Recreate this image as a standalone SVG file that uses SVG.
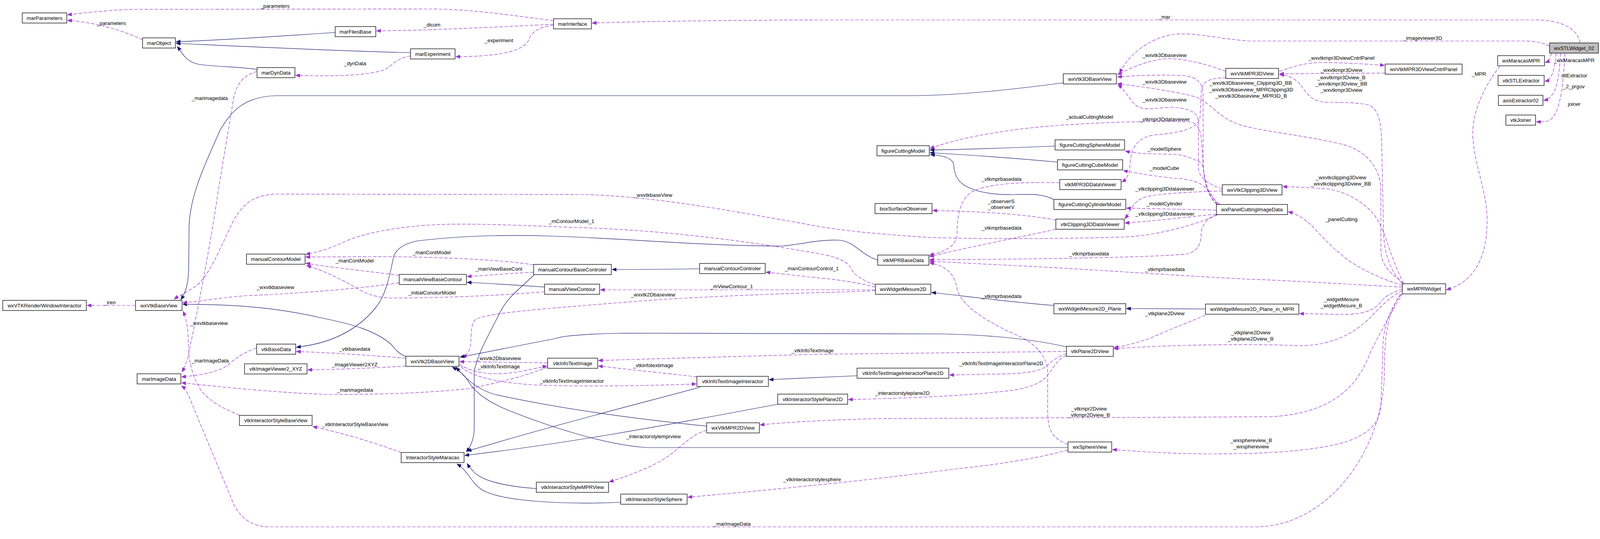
<svg xmlns="http://www.w3.org/2000/svg" width="4244" height="1380" viewBox="0 0 4244 1380">
<defs>
<marker id="ap" markerUnits="userSpaceOnUse" markerWidth="12" markerHeight="9" viewBox="0 0 12 9" refX="11" refY="4.5" orient="auto"><path d="M0,0 L11,4.5 L0,9 z" fill="#9a32cd" stroke="#9a32cd" stroke-width="1"/></marker>
<marker id="an" markerUnits="userSpaceOnUse" markerWidth="12" markerHeight="9" viewBox="0 0 12 9" refX="11" refY="4.5" orient="auto"><path d="M0,0 L11,4.5 L0,9 z" fill="#191970" stroke="#191970" stroke-width="1"/></marker>
</defs>
<style>
text{font-family:"Liberation Sans",Arial,Helvetica,sans-serif;font-size:13.3px;fill:#000;text-anchor:middle}
.n rect{fill:#fff;stroke:#000;stroke-width:1.3}
.n.root rect{fill:#bfbfbf}
.u{fill:none;stroke:#9a32cd;stroke-width:1.2;stroke-dasharray:9,4;marker-end:url(#ap)}
.i{fill:none;stroke:#191970;stroke-width:1.2;marker-end:url(#an)}
</style>
<rect x="0" y="0" width="4244" height="1380" fill="#fff"/>
<g id="edges">
<path class="i" d="M858,83 C760,90 560,103 451,107"/>
<path class="i" d="M1051,135 C900,131 600,118 451,111"/>
<path class="i" d="M658,178 C610,170 560,172 510,165 C475,158 468,138 454,119"/>
<path class="u" d="M365,102 C320,80 250,58 173,52"/>
<path class="u" d="M1417,53 C1300,38 1200,23 1100,23 L340,24 C280,26 220,32 173,38"/>
<path class="u" d="M1417,62 C1300,68 1100,78 964,79"/>
<path class="u" d="M1417,64 C1365,72 1358,90 1352,105 C1335,135 1260,145 1167,145"/>
<path class="u" d="M1051,143 C1010,150 1003,172 980,180 C930,196 820,195 757,193"/>
<path class="u" d="M658,183 C612,195 600,230 595,270 L560,480 C540,620 505,800 483,905 C478,928 472,942 466,952"/>
<path class="u" d="M4045,110 C4040,75 4000,51 3930,51 L2100,51 C1800,52 1600,56 1516,59"/>
<path class="u" d="M3967,118 C3945,108 3930,105 3900,105 L3200,105 C3120,100 3060,82 3005,88 C2940,98 2890,140 2866,187"/>
<path class="i" d="M2722,212 C2550,235 2420,245 2330,245 L705,245 C620,248 590,290 565,330 C525,420 486,500 484,580 L483,690 C482,725 476,748 463,767"/>
<path class="u" d="M3138,183 C3080,160 3010,145 2970,152 C2920,160 2885,180 2861,191"/>
<path class="u" d="M3116,524 C3088,500 3080,460 3080,400 L3080,240 C3078,208 3060,194 3020,193 C2950,191 2900,194 2861,197"/>
<path class="u" d="M3129,484 C3090,470 3070,455 3068,430 L3068,310 C3066,290 3050,278 3005,275 C2970,273 2940,285 2914,274 C2895,262 2885,235 2862,217"/>
<path class="u" d="M3594,726 C3560,700 3535,680 3535,640 L3535,480 C3530,420 3490,380 3425,367 C3330,345 3220,335 3170,318 C3120,300 3100,265 3061,248 C3000,232 2920,222 2861,214"/>
<path class="u" d="M3275,183 C3310,170 3340,161 3380,160 C3440,160 3490,164 3544,167"/>
<path class="u" d="M3546,187 L3276,189"/>
<path class="u" d="M3591,727 C3565,700 3545,660 3542,600 L3537,360 C3535,300 3525,275 3500,268 C3470,262 3430,262 3400,262 C3360,262 3345,240 3335,225 C3320,202 3300,193 3276,191"/>
<path class="u" d="M3972,136 C3969,148 3965,157 3956,160"/>
<path class="u" d="M3984,136 C3980,170 3976,204 3955,208"/>
<path class="u" d="M3995,136 C3991,200 3986,250 3952,257"/>
<path class="u" d="M4006,136 C4002,230 3992,300 3962,310 C3952,312 3942,312 3933,312"/>
<path class="u" d="M3840,169 C3800,220 3772,280 3770,340 C3772,420 3805,480 3807,560 C3808,650 3780,720 3703,742"/>
<path class="u" d="M3140,199 C3100,200 3075,205 3075,240 L3072,300 C3068,330 3020,340 2960,345 C2910,350 2895,380 2893,420 C2892,445 2885,458 2872,466"/>
<path class="u" d="M3122,523 C3095,500 3082,470 3080,420 L3075,350 C3070,322 3060,312 3040,312 C2900,308 2700,318 2591,333 C2500,346 2430,362 2381,380"/>
<path class="i" d="M2701,374 C2600,378 2450,383 2381,384"/>
<path class="i" d="M2707,415 C2600,405 2450,395 2381,391"/>
<path class="i" d="M2698,511 C2670,496 2640,497 2600,498 C2540,500 2500,492 2470,475 C2446,460 2443,440 2441,420 C2438,405 2415,398 2382,396"/>
<path class="u" d="M3116,523 C3092,500 3086,470 3082,440 C3079,420 3075,414 3061,410 C3040,400 3020,395 3005,395 C2960,394 2920,395 2881,387"/>
<path class="u" d="M3118,523 C3100,500 3090,478 3068,468 C3040,458 3020,457 3012,457 C2960,452 2920,445 2876,437"/>
<path class="u" d="M3114,538 C3030,536 2950,534 2884,533"/>
<path class="u" d="M3129,489 C3080,490 2960,495 2930,505 C2900,515 2895,540 2880,560"/>
<path class="u" d="M3114,548 C3020,558 2950,566 2880,571"/>
<path class="u" d="M2703,563 C2600,545 2480,541 2388,539"/>
<path class="u" d="M2713,468 C2620,465 2530,470 2490,490 C2455,510 2450,560 2450,600 C2448,630 2420,645 2380,653"/>
<path class="u" d="M2703,587 C2600,610 2480,632 2380,657"/>
<path class="u" d="M3114,550 C3088,558 3075,580 3075,600 C3075,630 3060,645 3040,650 C2950,660 2600,664 2380,665"/>
<path class="u" d="M3590,735 C3450,728 3300,718 3200,715 C3000,705 2800,690 2600,680 C2500,675 2420,671 2380,669"/>
<path class="u" d="M2734,1138 C2692,1122 2682,1100 2682,1050 L2682,950 C2680,918 2660,880 2591,853 C2520,820 2460,780 2450,740 C2445,700 2420,680 2380,673"/>
<path class="i" d="M2247,666 C2200,650 2190,620 2150,615 C2100,612 2050,626 2003,630 C1800,630 1600,610 1400,604 C1250,600 1150,607 1067,617 C1030,625 1012,640 1007,660 C995,720 985,760 960,790 C910,850 840,880 759,889"/>
<path class="i" d="M1039,913 C1020,905 1012,895 1003,883 C960,845 900,830 828,815 C720,790 620,779 468,779"/>
<path class="u" d="M347,782 L223,782"/>
<path class="u" d="M1022,724 C950,735 800,750 631,757 C560,762 510,772 468,775"/>
<path class="u" d="M613,1063 C570,1045 540,1030 515,1000 C490,960 482,920 482,870 C481,840 478,820 469,797"/>
<path class="u" d="M3117,550 C3050,580 2950,605 2872,607 C2700,612 2500,612 2381,608 C2250,600 2150,590 2087,578 C1900,545 1700,505 1500,498 L705,497 C640,500 620,530 600,560 C570,620 540,700 505,730 C480,748 458,757 446,766"/>
<path class="u" d="M1366,678 C1300,668 1200,660 1000,657 L783,658"/>
<path class="u" d="M1022,705 C950,695 870,688 783,674"/>
<path class="u" d="M1394,747 C1300,755 1150,763 1000,763 C960,762 930,750 900,730 C860,708 820,690 785,680"/>
<path class="u" d="M2241,729 C2200,715 2185,700 2180,690 C2170,670 2150,660 2100,650 C1900,615 1700,590 1491,583 C1350,578 1200,570 1100,576 C1000,583 920,600 880,620 C840,638 815,645 783,651"/>
<path class="u" d="M1366,697 C1300,700 1250,705 1196,708"/>
<path class="i" d="M1394,735 C1320,730 1250,725 1196,723"/>
<path class="i" d="M1791,688 C1700,690 1620,690 1567,690"/>
<path class="u" d="M2241,735 C2200,725 2150,716 2100,712 C2050,707 2000,700 1961,697"/>
<path class="u" d="M2241,742 L1537,742"/>
<path class="u" d="M2241,744 C2200,746 2150,748 2100,749 C1900,755 1700,765 1610,773 C1400,790 1250,800 1217,818 C1205,830 1207,853 1205,880 C1203,900 1195,910 1184,915"/>
<path class="i" d="M1368,703 C1330,740 1300,760 1280,800 C1250,860 1225,900 1214,950 L1214,1100 C1212,1130 1203,1145 1194,1157"/>
<path class="i" d="M2730,888 C2650,870 2550,858 2416,855 L1596,853 C1500,855 1440,860 1421,867 C1300,890 1230,905 1178,914"/>
<path class="u" d="M2730,900 C2500,902 2300,905 2100,907 C1900,912 1700,918 1532,923"/>
<path class="u" d="M1402,929 L1177,926"/>
<path class="u" d="M1176,933 C1195,945 1230,957 1267,957 C1320,957 1360,945 1400,937"/>
<path class="u" d="M1180,938 C1200,960 1260,980 1379,986 C1500,990 1650,988 1782,983"/>
<path class="u" d="M1784,965 C1700,955 1600,945 1532,937"/>
<path class="u" d="M1402,940 C1350,960 1300,975 1200,995 C1100,1005 1000,1010 842,1010 C700,1005 560,990 465,980"/>
<path class="u" d="M1039,937 C950,943 850,946 788,947"/>
<path class="u" d="M1039,917 C950,910 850,903 759,900"/>
<path class="u" d="M657,891 C630,900 605,915 589,930 C570,950 520,960 465,965"/>
<path class="u" d="M3585,753 C3555,800 3544,850 3544,950 C3544,1150 3400,1349 3214,1349 L690,1349 C640,1349 612,1320 598,1290 L491,1033 C484,1012 476,996 465,988"/>
<path class="u" d="M1028,1159 C950,1130 880,1110 801,1092"/>
<path class="i" d="M2194,962 C2100,966 2030,970 1969,972"/>
<path class="i" d="M1793,991 C1650,1030 1450,1080 1196,1155"/>
<path class="i" d="M1991,1035 C1800,1070 1500,1130 1190,1166"/>
<path class="i" d="M1809,1091 C1650,1075 1450,1050 1267,1010 C1230,1000 1195,975 1168,940"/>
<path class="i" d="M2734,1146 L1659,1146 C1550,1140 1400,1090 1300,1050 C1240,1025 1213,1000 1198,975 C1188,958 1170,946 1158,940"/>
<path class="i" d="M1373,1251 C1290,1245 1230,1230 1210,1205 C1203,1197 1199,1192 1196,1187"/>
<path class="i" d="M1589,1286 C1450,1292 1290,1285 1235,1255 C1205,1235 1198,1205 1170,1188"/>
<path class="u" d="M1809,1102 C1770,1110 1740,1150 1700,1175 C1650,1205 1600,1220 1560,1234"/>
<path class="u" d="M2734,1152 C2650,1175 2550,1190 2451,1200 C2300,1220 2100,1243 1761,1273"/>
<path class="u" d="M3592,750 C3560,800 3530,860 3509,900 C3480,980 3420,1060 3249,1067 L2240,1072 C2100,1076 2000,1082 1946,1088"/>
<path class="u" d="M3588,753 C3550,800 3540,850 3540,900 L3535,1040 C3530,1090 3500,1110 3450,1130 C3350,1160 3200,1162 3096,1162 C3000,1162 2900,1155 2848,1151"/>
<path class="u" d="M3593,726 C3580,700 3565,660 3558,640 C3545,600 3530,560 3509,540 C3480,510 3440,490 3400,484 C3350,480 3310,478 3284,478"/>
<path class="u" d="M3590,731 C3540,715 3480,690 3440,657 C3400,625 3380,600 3360,580 C3340,560 3320,548 3298,542"/>
<path class="u" d="M3590,740 C3565,748 3545,760 3537,770 C3520,795 3490,805 3439,805 L3327,803"/>
<path class="u" d="M3590,744 C3560,760 3540,780 3520,800 C3480,845 3420,885 3326,885 C3200,880 3000,882 2852,893"/>
<path class="u" d="M3086,807 C3030,830 2980,850 2942,867 C2900,880 2880,886 2852,890"/>
<path class="i" d="M3086,791 L2884,790"/>
<path class="i" d="M2698,782 C2550,770 2450,755 2385,749"/>
<path class="u" d="M2730,905 C2705,915 2692,925 2682,935 C2662,955 2600,958 2521,958 C2480,959 2450,960 2431,960"/>
<path class="u" d="M2730,910 C2705,920 2692,950 2682,960 C2662,990 2600,1000 2556,1003 C2450,1015 2300,1020 2172,1023"/>
<g id="edge-labels">
<text x="704" y="20">_parameters</text>
<text x="285" y="64">_parameters</text>
<text x="1106" y="68">_dicom</text>
<text x="1277" y="108">_experiment</text>
<text x="909" y="167">_dynData</text>
<text x="537" y="256">_marimagedata</text>
<text x="2981" y="48">_mar</text>
<text x="3642" y="102">_imageviewer3D</text>
<text x="2981" y="146">_wxvtk3Dbaseview</text>
<text x="2981" y="214">_wxvtk3Dbaseview</text>
<text x="2981" y="260">_wxvtk3Dbaseview</text>
<text x="3202" y="217">_wxvtk3Dbaseview_Clipping3D_BB</text>
<text x="3203" y="234">_wxvtk3Dbaseview_MPRClipping3D</text>
<text x="3203" y="250">_wxvtk3Dbaseview_MPR3D_B</text>
<text x="3434" y="153">_wxvtkmpr3DviewCntrlPanel</text>
<text x="3434" y="184">_wxvtkmpr3Dview</text>
<text x="3434" y="203">_wxvtkmpr3Dview_B</text>
<text x="3434" y="219">_wxvtkmpr3Dview_BB</text>
<text x="3434" y="235">_wxvtkmpr3Dview</text>
<text x="3786" y="194">_MPR</text>
<text x="4030" y="159">_wxMaracasMPR</text>
<text x="4030" y="198">stlExtractor</text>
<text x="4029" y="226">_2_prgov</text>
<text x="4030" y="271">joiner</text>
<text x="2789" y="304">_actualCuttingModel</text>
<text x="2982" y="310">_vtkmpr3Ddataviewer</text>
<text x="2981" y="386">_modelSphere</text>
<text x="2981" y="435">_modelCube</text>
<text x="2564" y="463">_vtkmprbasedata</text>
<text x="3433" y="459">_wxvtkclipping3Dview</text>
<text x="3433" y="475">_wxvtkclipping3Dview_BB</text>
<text x="2982" y="488">_vtkclipping3Ddataviewer</text>
<text x="2563" y="520">_observerS</text>
<text x="2563" y="535">_observerV</text>
<text x="2981" y="526">_modelCylinder</text>
<text x="2982" y="552">_vtkclipping3Ddataviewer</text>
<text x="3434" y="566">_panelCutting</text>
<text x="2564" y="588">_vtkmprbasedata</text>
<text x="2788" y="654">_vtkmprbasedata</text>
<text x="2982" y="694">_vtkmprbasedata</text>
<text x="2078" y="692">_manContourControl_1</text>
<text x="2564" y="763">_vtkmprbasedata</text>
<text x="3434" y="771">_widgetMesure</text>
<text x="3434" y="787">_widgetMesure_B</text>
<text x="2982" y="807">_vtkplane2Dview</text>
<text x="3202" y="856">_vtkplane2Dview</text>
<text x="3202" y="872">_vtkplane2Dview_B</text>
<text x="2080" y="902">_vtkInfoTextImage</text>
<text x="1672" y="504">_wxvtkbaseView</text>
<text x="1463" y="571">_mContourModel_1</text>
<text x="1105" y="651">_manContModel</text>
<text x="1277" y="693">_manViewBaseCont</text>
<text x="1873" y="738">_mViewContour_1</text>
<text x="1672" y="759">_wxvtk2Dbaseview</text>
<text x="1106" y="754">_initialConoturModel</text>
<text x="908" y="672">_manContModel</text>
<text x="705" y="740">_wxvtkbaseview</text>
<text x="281" y="779">_iren</text>
<text x="535" y="832">_wxvtkbaseview</text>
<text x="908" y="898">_vtkbasedata</text>
<text x="538" y="928">_marImageData</text>
<text x="908" y="938">_imageViewer2XYZ</text>
<text x="909" y="1003">_marimagedata</text>
<text x="909" y="1091">_vtkInteractorStyleBaseView</text>
<text x="1277" y="922">_wxvtk2Dbaseview</text>
<text x="1277" y="943">_vtkInfoTextImage</text>
<text x="1464" y="980">_vtkInfoTextImageInteractor</text>
<text x="1672" y="940">_vtkinfotextimage</text>
<text x="1673" y="1122">_interactorstylemprview</text>
<text x="2079" y="1232">_vtkinteractorstylesphere</text>
<text x="1874" y="1346">_marImageData</text>
<text x="2563" y="935">_vtkInfoTextImageInteractorPlane2D</text>
<text x="2310" y="1011">_interactorstyleplane2D</text>
<text x="2788" y="1051">_vtkmpr2Dview</text>
<text x="2788" y="1067">_vtkmpr2Dview_B</text>
<text x="3203" y="1132">_wxsphereview_B</text>
<text x="3203" y="1148">_wxsphereview</text>
</g>
</g>
<g id="marParameters" class="n"><rect x="57" y="33" width="114" height="26"/><text x="114" y="50.6">marParameters</text></g>
<g id="marObject" class="n"><rect x="365" y="97" width="84" height="26"/><text x="407" y="114.6">marObject</text></g>
<g id="marFilesBase" class="n"><rect x="858" y="68" width="104" height="26"/><text x="910" y="85.6">marFilesBase</text></g>
<g id="marExperiment" class="n"><rect x="1051" y="125" width="114" height="26"/><text x="1108" y="142.6">marExperiment</text></g>
<g id="marDynData" class="n"><rect x="658" y="173" width="97" height="26"/><text x="706.5" y="190.6">marDynData</text></g>
<g id="marInterface" class="n"><rect x="1417" y="48" width="97" height="26"/><text x="1465.5" y="65.6">marInterface</text></g>
<g id="wxVtk3DBaseView" class="n"><rect x="2722" y="189" width="136" height="26"/><text x="2790" y="206.6">wxVtk3DBaseView</text></g>
<g id="figureCuttingModel" class="n"><rect x="2245" y="373" width="134" height="26"/><text x="2312" y="390.6">figureCuttingModel</text></g>
<g id="figureCuttingSphereModel" class="n"><rect x="2701" y="358" width="178" height="26"/><text x="2790" y="375.6">figureCuttingSphereModel</text></g>
<g id="figureCuttingCubeModel" class="n"><rect x="2707" y="409" width="167" height="26"/><text x="2790.5" y="426.6">figureCuttingCubeModel</text></g>
<g id="wxVtkMPR3DView" class="n"><rect x="3138" y="175" width="135" height="26"/><text x="3205.5" y="192.6">wxVtkMPR3DView</text></g>
<g id="wxVtkMPR3DViewCntrlPanel" class="n"><rect x="3546" y="164" width="197" height="26"/><text x="3644.5" y="181.6">wxVtkMPR3DViewCntrlPanel</text></g>
<g id="wxMaracasMPR" class="n"><rect x="3834" y="142.5" width="120" height="26"/><text x="3894" y="160.1">wxMaracasMPR</text></g>
<g id="vtkSTLExtractor" class="n"><rect x="3835" y="193" width="118" height="26"/><text x="3894" y="210.6">vtkSTLExtractor</text></g>
<g id="axisExtractor02" class="n"><rect x="3836" y="244" width="114" height="26"/><text x="3893" y="261.6">axisExtractor02</text></g>
<g id="vtkJoiner" class="n"><rect x="3855" y="294.5" width="76" height="26"/><text x="3893" y="312.1">vtkJoiner</text></g>
<g id="wxSTLWidget_02" class="n root"><rect x="3967" y="110" width="125" height="26"/><text x="4029.5" y="127.6">wxSTLWidget_02</text></g>
<g id="wxVTKRenderWindowInteractor" class="n"><rect x="7" y="769" width="214" height="26"/><text x="114" y="786.6">wxVTKRenderWindowInteractor</text></g>
<g id="wxVtkBaseView" class="n"><rect x="347" y="769" width="119" height="26"/><text x="406.5" y="786.6">wxVtkBaseView</text></g>
<g id="manualContourModel" class="n"><rect x="631" y="650.5" width="150" height="26"/><text x="706" y="668.1">manualContourModel</text></g>
<g id="vtkBaseData" class="n"><rect x="657" y="881" width="100" height="26"/><text x="707" y="898.6">vtkBaseData</text></g>
<g id="manualViewBaseContour" class="n"><rect x="1022" y="702.5" width="172" height="26"/><text x="1108" y="720.1">manualViewBaseContour</text></g>
<g id="manualContourBaseControler" class="n"><rect x="1366" y="677" width="199" height="26"/><text x="1465.5" y="694.6">manualContourBaseControler</text></g>
<g id="manualViewContour" class="n"><rect x="1394" y="727.5" width="141" height="26"/><text x="1464.5" y="745.1">manualViewContour</text></g>
<g id="manualContourControler" class="n"><rect x="1791" y="674.5" width="168" height="26"/><text x="1875" y="692.1">manualContourControler</text></g>
<g id="wxVtk2DBaseView" class="n"><rect x="1039" y="912" width="136" height="26"/><text x="1107" y="929.6">wxVtk2DBaseView</text></g>
<g id="vtkMPR3DDataViewer" class="n"><rect x="2713" y="459.5" width="157" height="26"/><text x="2791.5" y="477.1">vtkMPR3DDataViewer</text></g>
<g id="figureCuttingCylinderModel" class="n"><rect x="2698" y="510.5" width="184" height="26"/><text x="2790" y="528.1">figureCuttingCylinderModel</text></g>
<g id="boxSurfaceObserver" class="n"><rect x="2240" y="521" width="146" height="26"/><text x="2313" y="538.6">boxSurfaceObserver</text></g>
<g id="vtkClipping3DDataViewer" class="n"><rect x="2703" y="561" width="175" height="26"/><text x="2790.5" y="578.6">vtkClipping3DDataViewer</text></g>
<g id="vtkMPRBaseData" class="n"><rect x="2247" y="653" width="131" height="26"/><text x="2312.5" y="670.6">vtkMPRBaseData</text></g>
<g id="wxWidgetMesure2D" class="n"><rect x="2241" y="727.5" width="142" height="26"/><text x="2312" y="745.1">wxWidgetMesure2D</text></g>
<g id="wxWidgetMesure2D_Plane" class="n"><rect x="2698" y="777.5" width="184" height="26"/><text x="2790" y="795.1">wxWidgetMesure2D_Plane</text></g>
<g id="vtkPlane2DView" class="n"><rect x="2730" y="886.5" width="120" height="26"/><text x="2790" y="904.1">vtkPlane2DView</text></g>
<g id="wxVtkClipping3DView" class="n"><rect x="3129" y="473" width="153" height="26"/><text x="3205.5" y="490.6">wxVtkClipping3DView</text></g>
<g id="wxPanelCuttingImageData" class="n"><rect x="3114" y="523.5" width="182" height="26"/><text x="3205" y="541.1">wxPanelCuttingImageData</text></g>
<g id="wxWidgetMesure2D_Plane_in_MPR" class="n"><rect x="3086" y="778.5" width="239" height="26"/><text x="3205.5" y="796.1">wxWidgetMesure2D_Plane_in_MPR</text></g>
<g id="wxMPRWidget" class="n"><rect x="3590" y="726.5" width="111" height="26"/><text x="3645.5" y="744.1">wxMPRWidget</text></g>
<g id="marImageData" class="n"><rect x="351" y="957" width="112" height="26"/><text x="407" y="974.6">marImageData</text></g>
<g id="vtkImageViewer2_XYZ" class="n"><rect x="626" y="931.5" width="160" height="26"/><text x="706" y="949.1">vtkImageViewer2_XYZ</text></g>
<g id="vtkInteractorStyleBaseView" class="n"><rect x="613" y="1063.5" width="186" height="26"/><text x="706" y="1081.1">vtkInteractorStyleBaseView</text></g>
<g id="InteractorStyleMaracas" class="n"><rect x="1027" y="1158.5" width="161" height="26"/><text x="1107.5" y="1176.1">InteractorStyleMaracas</text></g>
<g id="vtkInfoTextImage" class="n"><rect x="1402" y="917" width="128" height="26"/><text x="1466" y="934.6">vtkInfoTextImage</text></g>
<g id="vtkInfoTextImageInteractor" class="n"><rect x="1784" y="963.5" width="183" height="26"/><text x="1875.5" y="981.1">vtkInfoTextImageInteractor</text></g>
<g id="vtkInteractorStylePlane2D" class="n"><rect x="1991" y="1009" width="179" height="26"/><text x="2080.5" y="1026.6">vtkInteractorStylePlane2D</text></g>
<g id="wxVtkMPR2DView" class="n"><rect x="1809" y="1082.5" width="135" height="26"/><text x="1876.5" y="1100.1">wxVtkMPR2DView</text></g>
<g id="vtkInteractorStyleMPRView" class="n"><rect x="1373" y="1234.5" width="185" height="26"/><text x="1465.5" y="1252.1">vtkInteractorStyleMPRView</text></g>
<g id="vtkInteractorStyleSphere" class="n"><rect x="1589" y="1265" width="170" height="26"/><text x="1674" y="1282.6">vtkInteractorStyleSphere</text></g>
<g id="vtkInfoTextImageInteractorPlane2D" class="n"><rect x="2194" y="942.5" width="235" height="26"/><text x="2311.5" y="960.1">vtkInfoTextImageInteractorPlane2D</text></g>
<g id="wxSphereView" class="n"><rect x="2734" y="1131.5" width="112" height="26"/><text x="2790" y="1149.1">wxSphereView</text></g>
</svg>
